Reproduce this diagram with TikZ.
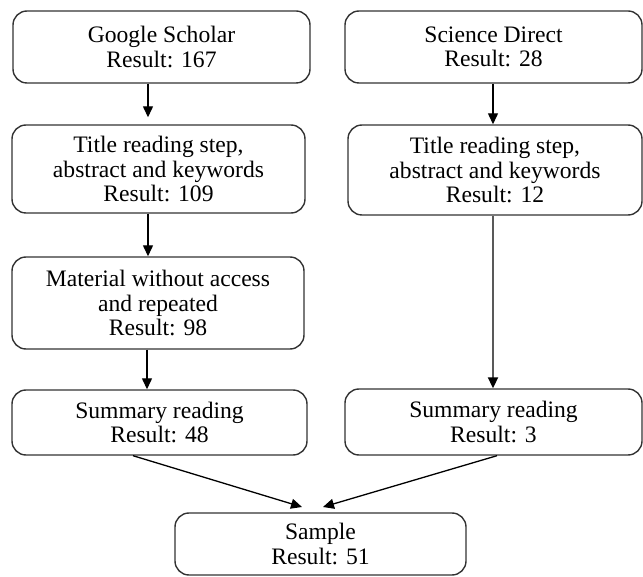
\documentclass[tikz,border=0pt]{standalone}
\usepackage{fontspec}
\setmainfont{Liberation Serif}
\usetikzlibrary{arrows.meta}
\begin{document}
\begin{tikzpicture}[x=1pt,y=-1pt,
  box/.style={draw=black!80, line width=1.4pt, rounded corners=14pt, align=center,
    inner sep=0pt, font=\fontsize{23.6pt}{24.5pt}\selectfont},
  arr/.style={line width=1.3pt, -{Triangle[length=11pt,width=10pt]}},
  longarr/.style={draw=black!65, line width=2pt, -{Triangle[length=11pt,width=10pt,fill=black,color=black]}}]
\useasboundingbox (0,0) rectangle (643,577);
\node[box, minimum width=297pt, minimum height=72pt] (GS) at (161.5,47) {Google Scholar\\Result: 167};
\node[box, minimum width=297pt, minimum height=72pt] (SD) at (493.5,47) {Science Direct\\Result: 28};
\node[box, minimum width=293pt, minimum height=88pt] (T1) at (158.5,169) {Title reading step,\\abstract and keywords\\Result: 109};
\node[box, minimum width=294pt, minimum height=90pt] (T2) at (495,170) {Title reading step,\\abstract and keywords\\Result: 12};
\node[box, minimum width=292pt, minimum height=92pt] (M) at (158,303) {Material without access\\and repeated\\Result: 98};
\node[box, minimum width=295pt, minimum height=65pt] (S1) at (159.5,422.5) {Summary reading\\Result: 48};
\node[box, minimum width=297pt, minimum height=66pt] (S2) at (493.5,422) {Summary reading\\Result: 3};
\node[box, minimum width=291pt, minimum height=62pt] (SA) at (320.5,544) {Sample\\Result: 51};
\coordinate (cL) at (148,0);
\coordinate (cR) at (493,0);
\coordinate (cM) at (147,0);
\coordinate (fL) at (133,0);
\coordinate (fR) at (497,0);
\coordinate (tipL) at (302,507);
\coordinate (tipR) at (323,507);
\draw[arr, shorten >=7pt] (GS.south -| cL) -- (T1.north -| cL);
\draw[arr] (SD.south -| cR) -- (T2.north -| cR);
\draw[arr] (T1.south -| cL) -- (M.north -| cL);
\draw[arr] (M.south -| cM) -- (S1.north -| cM);
\draw[longarr] (T2.south -| cR) -- (S2.north -| cR);
\draw[arr] (S1.south -| fL) -- (tipL);
\draw[arr] (S2.south -| fR) -- (tipR);
\end{tikzpicture}
\end{document}
